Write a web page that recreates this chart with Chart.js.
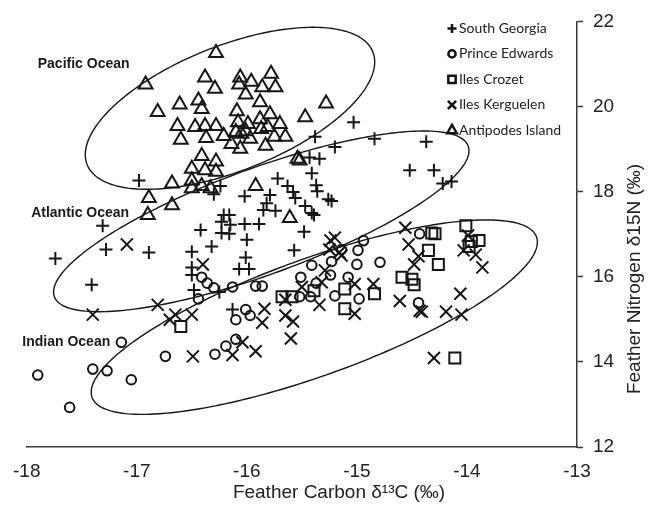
<!DOCTYPE html>
<html>
<head>
<meta charset="utf-8">
<script src="https://cdn.jsdelivr.net/npm/chart.js@4.4.1/dist/chart.umd.min.js"></script>
<style>
html,body{margin:0;padding:0;background:#ffffff;}
#wrap{width:648px;height:510px;position:relative;}
</style>
</head>
<body>
<div id="wrap"><canvas id="c" width="648" height="510"></canvas></div>
<script>
// ---------- data ----------
const xTicks = [-18, -17, -16, -15, -14, -13];
const yTicks = [12, 14, 16, 18, 20, 22];
const seriesNames = ['South Georgia', 'Prince Edwards', 'Iles Crozet', 'Iles Kerguelen', 'Antipodes Island'];

const southGeorgiaX = [-16.98,-15.38,-15.03,-15.20,-14.84,-14.37,-14.52,-14.30,-14.22,-14.14,-15.43,-15.34,-15.41,-15.37,-15.36,-15.26,-15.23,-15.72,-15.63,-15.58,-15.56,-15.79,-15.82,-16.02,-16.24,-16.30,-15.85,-15.74,-15.47,-15.41,-15.39,-16.21,-16.16,-16.23,-16.15,-16.02,-15.89,-16.42,-16.23,-16.16,-16.00,-15.48,-17.31,-17.28,-16.89,-17.74,-17.41,-16.50,-16.32,-15.57,-16.01,-16.07,-15.98,-16.50,-16.50,-16.48,-16.25,-16.13];
const southGeorgiaY = [18.26,19.29,19.63,19.05,19.24,19.17,18.50,18.50,18.19,18.24,18.80,18.77,18.43,18.15,18.01,17.82,17.78,18.31,18.13,17.99,17.85,17.92,17.73,17.89,18.13,17.94,17.57,17.55,17.66,17.50,17.45,17.45,17.45,17.29,17.22,17.24,17.24,17.10,17.03,17.01,16.87,17.06,17.20,16.64,16.57,16.43,15.81,16.59,16.71,16.62,16.45,16.18,16.18,16.22,16.04,15.69,15.64,15.23];

const princeEdwardsX = [-17.90,-17.61,-17.40,-17.27,-17.14,-17.05,-16.74,-16.29,-16.19,-16.10,-16.44,-16.41,-16.36,-16.30,-16.13,-15.92,-15.86,-16.01,-15.97,-16.10,-15.51,-15.41,-15.37,-15.52,-15.42,-15.23,-15.24,-15.20,-15.14,-14.99,-15.00,-14.94,-14.79,-15.08,-14.98,-14.43,-14.44];
const princeEdwardsY = [13.69,12.93,13.83,13.79,14.46,13.58,14.13,14.18,14.37,14.53,15.48,15.99,15.85,15.74,15.76,15.78,15.78,15.23,15.09,14.99,15.99,16.27,15.85,15.53,15.53,16.36,16.04,15.55,16.64,16.62,16.29,16.85,16.34,15.99,15.48,17.01,15.39];

const ilesCrozetX = [-16.60,-15.68,-15.59,-15.39,-15.11,-15.11,-14.84,-14.59,-14.50,-14.48,-14.35,-14.26,-14.32,-14.29,-14.01,-13.96,-13.89,-13.98,-14.11];
const ilesCrozetY = [14.83,15.53,15.53,15.67,15.71,15.25,15.60,15.99,15.94,15.81,16.62,16.29,17.03,17.01,17.20,16.83,16.85,16.71,14.09];

const ilesKerguelenX = [-17.09,-17.40,-16.81,-16.65,-16.70,-16.50,-16.40,-16.49,-16.13,-16.04,-15.92,-15.84,-15.86,-15.65,-15.58,-15.60,-15.65,-15.34,-15.50,-15.24,-15.25,-15.29,-15.32,-15.20,-15.16,-15.14,-14.56,-14.53,-14.44,-14.48,-13.99,-14.03,-13.92,-13.86,-14.06,-14.61,-14.43,-14.41,-14.19,-14.05,-14.30,-14.85,-15.02,-15.02];
const ilesKerguelenY = [16.76,15.11,15.34,15.11,14.99,15.11,16.29,14.13,14.16,14.46,14.25,15.25,14.92,15.09,14.95,14.55,15.46,15.34,15.76,16.85,16.64,16.15,15.87,16.92,16.57,16.50,17.15,16.76,16.48,16.29,16.97,16.62,16.52,16.22,15.60,15.43,15.20,15.18,15.18,15.11,14.09,15.83,15.83,15.13];

const antipodesX = [-16.28,-16.92,-16.38,-16.29,-16.06,-15.96,-15.78,-16.07,-15.86,-15.74,-16.01,-15.88,-16.44,-16.61,-16.41,-16.81,-15.28,-16.09,-15.79,-15.47,-16.63,-16.47,-16.38,-16.28,-16.60,-16.37,-16.21,-16.08,-15.99,-15.88,-15.70,-16.10,-16.01,-15.87,-15.81,-16.14,-16.06,-15.97,-15.83,-15.75,-15.65,-16.41,-16.28,-16.50,-16.38,-16.28,-16.50,-16.50,-16.41,-16.33,-15.92,-15.54,-15.52,-15.61,-16.68,-16.89,-16.68,-16.90,-16.05];
const antipodesY = [21.26,20.52,20.68,20.42,20.68,20.58,20.77,20.52,20.45,20.45,20.28,20.10,20.14,20.05,19.94,19.87,20.07,19.89,19.82,19.75,19.54,19.52,19.54,19.54,19.22,19.26,19.31,19.63,19.59,19.70,19.59,19.40,19.42,19.47,19.52,19.12,19.01,19.24,19.08,19.29,19.29,18.84,18.71,18.54,18.50,18.47,18.26,18.08,18.13,18.08,18.13,18.77,18.73,17.38,18.19,17.85,17.68,17.45,19.36];

// ellipses (data units): centre and two conjugate semi-axis vectors
const ellipseNames = ['Pacific Ocean', 'Atlantic Ocean', 'Indian Ocean'];
const ellipseCentreX = [-16.153, -15.869, -15.387];
const ellipseCentreY = [19.958, 17.302, 15.051];
const ellipseAxisA = [[1.298, 1.325], [1.880, 1.770], [2.019, 1.886]];
const ellipseAxisB = [[0.210, -1.366], [0.166, -1.172], [0.182, -1.289]];
const oceanLabelX = [-17.90, -17.96, -18.04];
const oceanLabelY = [21.00, 17.50, 14.46];

// ---------- build ----------
const toPts = (xs, ys) => xs.map((v, i) => ({x: v, y: ys[i]}));
const INK = '#161616';
const styles = [
  {pointStyle: 'cross', r: 6.5, lr: 4.5},
  {pointStyle: 'circle', r: 4.8, lr: 3.6},
  {pointStyle: 'rect', r: 7.8, lr: 5.2},
  {pointStyle: 'crossRot', r: 8.5, lr: 5.8},
  {pointStyle: 'triangle', r: 8, lr: 5.5}
];
const seriesData = [
  toPts(southGeorgiaX, southGeorgiaY),
  toPts(princeEdwardsX, princeEdwardsY),
  toPts(ilesCrozetX, ilesCrozetY),
  toPts(ilesKerguelenX, ilesKerguelenY),
  toPts(antipodesX, antipodesY)
];
const datasets = seriesNames.map((name, i) => ({
  label: name,
  data: seriesData[i],
  pointStyle: styles[i].pointStyle,
  pointRadius: styles[i].r,
  pointHoverRadius: styles[i].r,
  pointBorderWidth: 2,
  pointBorderColor: INK,
  pointBackgroundColor: 'rgba(0,0,0,0)',
  showLine: false
}));

function drawMarker(ctx, style, x, y, r) {
  ctx.beginPath();
  if (style === 'cross') {
    ctx.moveTo(x - r, y); ctx.lineTo(x + r, y);
    ctx.moveTo(x, y - r); ctx.lineTo(x, y + r);
  } else if (style === 'crossRot') {
    const d = r * Math.SQRT1_2;
    ctx.moveTo(x - d, y - d); ctx.lineTo(x + d, y + d);
    ctx.moveTo(x - d, y + d); ctx.lineTo(x + d, y - d);
  } else if (style === 'circle') {
    ctx.arc(x, y, r, 0, Math.PI * 2);
  } else if (style === 'rect') {
    const s = r * Math.SQRT1_2;
    ctx.rect(x - s, y - s, 2 * s, 2 * s);
  } else if (style === 'triangle') {
    ctx.moveTo(x, y - r);
    ctx.lineTo(x + r * 0.866, y + r * 0.5);
    ctx.lineTo(x - r * 0.866, y + r * 0.5);
    ctx.closePath();
  }
  ctx.stroke();
}

const overlay = {
  id: 'overlay',
  afterDatasetsDraw(chart) {
    const ctx = chart.ctx, xs = chart.scales.x, ys = chart.scales.y;
    ctx.save();
    ctx.strokeStyle = INK;
    ctx.lineWidth = 1.4;
    ellipseNames.forEach((n, i) => {
      const cx = ellipseCentreX[i], cy = ellipseCentreY[i];
      const A = ellipseAxisA[i], B = ellipseAxisB[i];
      ctx.beginPath();
      const N = 240;
      for (let k = 0; k <= N; k++) {
        const t = k / N * Math.PI * 2;
        const vx = cx + A[0] * Math.cos(t) + B[0] * Math.sin(t);
        const vy = cy + A[1] * Math.cos(t) + B[1] * Math.sin(t);
        const px = xs.getPixelForValue(vx), py = ys.getPixelForValue(vy);
        if (k === 0) ctx.moveTo(px, py); else ctx.lineTo(px, py);
      }
      ctx.closePath();
      ctx.stroke();
    });
    ctx.restore();
  },
  afterDraw(chart) {
    const ctx = chart.ctx, xs = chart.scales.x, ys = chart.scales.y, ca = chart.chartArea;
    ctx.save();
    // ocean labels
    ctx.fillStyle = '#1a1a1a';
    ctx.font = 'bold 14px "Liberation Sans", Arial, sans-serif';
    ctx.textAlign = 'left';
    ctx.textBaseline = 'middle';
    ellipseNames.forEach((n, i) => {
      ctx.fillText(n, xs.getPixelForValue(oceanLabelX[i]), ys.getPixelForValue(oceanLabelY[i]));
    });
    // legend
    ctx.font = '14px Lato, "Open Sans", sans-serif';
    ctx.fillStyle = '#222';
    seriesNames.forEach((n, i) => {
      const yy = ca.top + 7 + i * 25.5;
      ctx.strokeStyle = INK;
      ctx.lineWidth = 2.5;
      drawMarker(ctx, styles[i].pointStyle, ca.right - 125, yy, styles[i].lr);
      ctx.fillText(n, ca.right - 118, yy);
    });
    // axis titles
    ctx.fillStyle = '#222';
    ctx.font = '19px "Liberation Sans", Arial, sans-serif';
    ctx.textAlign = 'center';
    ctx.textBaseline = 'middle';
    ctx.fillText('Feather Carbon δ¹³C (‰)', 339, 493);
    ctx.translate(635, 279);
    ctx.rotate(-Math.PI / 2);
    ctx.fillText('Feather Nitrogen δ15N (‰)', 0, 0);
    ctx.restore();
  }
};

const tickFont = {family: '"Liberation Sans", Arial, sans-serif', size: 19};

new Chart(document.getElementById('c'), {
  type: 'scatter',
  data: {datasets},
  options: {
    responsive: false,
    animation: false,
    devicePixelRatio: 1,
    layout: {padding: {left: 22, top: 16, right: 0, bottom: 0}},
    plugins: {legend: {display: false}, tooltip: {enabled: false}},
    scales: {
      x: {
        type: 'linear', position: 'bottom', min: -18, max: -13,
        afterBuildTicks: s => { s.ticks = xTicks.map(v => ({value: v})); },
        afterFit: s => { s.height = 63; },
        grid: {drawOnChartArea: false, drawTicks: false},
        border: {display: true, color: '#3a3a3a', width: 1.5},
        ticks: {padding: 13, color: '#222', font: tickFont, maxRotation: 0}
      },
      y: {
        type: 'linear', position: 'right', min: 12, max: 22,
        afterBuildTicks: s => { s.ticks = yTicks.map(v => ({value: v})); },
        afterFit: s => { s.width = 71; },
        grid: {drawOnChartArea: false, drawTicks: true, tickLength: 6, color: '#3a3a3a', tickWidth: 1.5},
        border: {display: true, color: '#3a3a3a', width: 1.5},
        ticks: {padding: 10, color: '#222', font: tickFont}
      }
    }
  },
  plugins: [overlay]
});
</script>
</body>
</html>
